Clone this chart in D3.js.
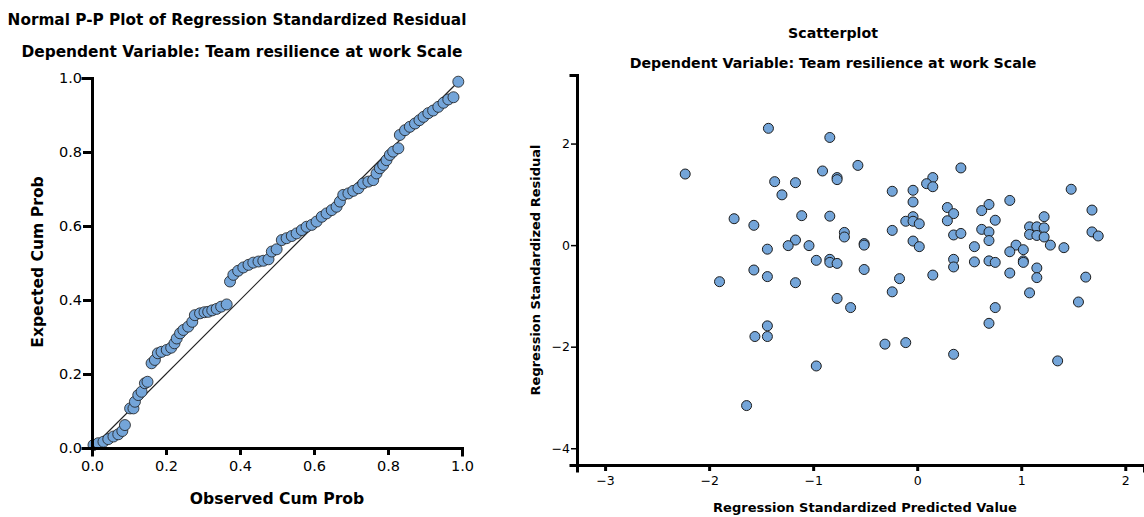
<!DOCTYPE html>
<html>
<head>
<meta charset="utf-8">
<script src="https://d3js.org/d3.v7.min.js"></script>
<style>
body{margin:0;background:#fff;}
text{font-family:"DejaVu Sans",sans-serif;fill:#000;}
</style>
</head>
<body>
<script>
// P-P plot: observed vs expected cumulative probability
var ppObserved=[0.004,0.017,0.031,0.044,0.058,0.071,0.082,0.089,0.103,0.112,0.116,0.125,0.134,0.143,0.150,
  0.161,0.170,0.178,0.188,0.202,0.214,0.223,0.229,0.238,0.247,0.260,0.271,0.278,0.292,0.304,0.314,0.325,
  0.337,0.349,0.364,0.373,0.382,0.395,0.409,0.423,0.436,0.450,0.463,0.477,0.486,0.499,0.513,0.526,0.540,
  0.553,0.567,0.580,0.594,0.607,0.621,0.634,0.648,0.661,0.670,0.679,0.693,0.706,0.720,0.733,0.747,0.760,
  0.769,0.778,0.787,0.796,0.805,0.814,0.828,0.832,0.846,0.859,0.873,0.885,0.896,0.909,0.922,0.936,0.950,
  0.963,0.977,0.990];
var ppExpected=[0.008,0.013,0.017,0.024,0.031,0.037,0.046,0.062,0.107,0.107,0.125,0.143,0.152,0.175,0.179,
  0.229,0.238,0.256,0.260,0.265,0.271,0.283,0.296,0.310,0.319,0.328,0.341,0.359,0.364,0.367,0.368,0.372,
  0.376,0.382,0.388,0.450,0.468,0.479,0.488,0.495,0.501,0.504,0.506,0.510,0.531,0.537,0.562,0.567,0.573,
  0.580,0.589,0.598,0.603,0.612,0.625,0.634,0.643,0.652,0.666,0.684,0.688,0.695,0.702,0.715,0.720,0.724,
  0.742,0.756,0.765,0.778,0.792,0.801,0.810,0.846,0.859,0.868,0.877,0.886,0.895,0.905,0.912,0.922,0.933,
  0.942,0.948,0.990];
var ppTicks=[0,0.2,0.4,0.6,0.8,1.0];

// scatterplot: standardized predicted vs standardized residual
var predicted=[-1.43,-0.84,-2.23,-0.57,-0.91,-0.77,-0.77,-1.37,-1.17,-1.30,-1.76,-1.57,-1.11,-0.84,-0.70,
  -0.70,-1.17,-1.24,-1.04,-1.44,-0.51,-0.51,-0.97,-0.84,-0.84,-0.77,-0.51,-1.57,-1.44,-1.90,-1.17,-0.77,
  -0.64,-1.44,-1.56,-1.44,-0.31,-0.97,-1.64,
  0.42,0.15,0.09,0.15,-0.24,-0.04,1.48,-0.04,0.89,1.68,0.29,0.35,0.69,0.62,1.22,-0.04,-0.11,-0.04,0.02,
  0.29,0.75,-0.24,0.62,0.69,0.35,0.42,1.08,1.15,1.22,1.08,1.15,1.22,1.68,1.74,0.69,-0.04,0.02,0.55,0.95,
  1.02,1.28,1.41,0.89,0.35,0.35,0.55,0.69,0.75,1.02,1.02,1.15,0.89,1.15,0.15,-0.17,1.62,-0.24,1.08,1.55,
  0.75,0.69,-0.11,0.35,1.35];
var residual=[2.30,2.12,1.40,1.57,1.46,1.33,1.29,1.25,1.23,0.99,0.52,0.39,0.58,0.57,0.25,
  0.16,0.10,-0.01,-0.01,-0.08,0.03,0.00,-0.30,-0.28,-0.34,-0.36,-0.48,-0.49,-0.62,-0.72,-0.74,-1.05,
  -1.23,-1.59,-1.80,-1.80,-1.95,-2.38,-3.16,
  1.52,1.33,1.21,1.15,1.06,1.08,1.10,0.85,0.88,0.69,0.74,0.62,0.80,0.68,0.56,0.56,0.47,0.47,0.42,
  0.48,0.49,0.29,0.31,0.26,0.20,0.23,0.36,0.36,0.34,0.21,0.19,0.16,0.26,0.18,0.09,0.08,-0.03,-0.03,0.00,
  -0.09,0.00,-0.05,-0.13,-0.28,-0.43,-0.33,-0.31,-0.34,-0.31,-0.34,-0.45,-0.55,-0.64,-0.59,-0.66,-0.63,-0.92,-0.94,-1.12,
  -1.23,-1.54,-1.92,-2.15,-2.28];
var predTicks=[-3,-2,-1,0,1,2];
var residTicks=[2,0,-2,-4];

var dotFill="#74a5d9", dotStroke="#1c1c1c";

var svg=d3.select("body").append("svg").attr("width",1144).attr("height",517);

// ---------- left chart: Normal P-P plot ----------
svg.append("text").attr("x",237).attr("y",25)
   .attr("text-anchor","middle").attr("font-size","15.3px").attr("font-weight","bold")
   .text("Normal P-P Plot of Regression Standardized Residual");
svg.append("text").attr("x",242).attr("y",57)
   .attr("text-anchor","middle").attr("font-size","15.4px").attr("font-weight","bold")
   .text("Dependent Variable: Team resilience at work Scale");

var px=d3.scaleLinear().domain([0,1]).range([92,462]);
var py=d3.scaleLinear().domain([0,1]).range([448,78]);

// reference diagonal
svg.append("line").attr("x1",px(0)).attr("y1",py(0)).attr("x2",px(1)).attr("y2",py(1))
   .attr("stroke","#222").attr("stroke-width",1.2);

var ppData=ppObserved.map(function(d,i){return {x:d,y:ppExpected[i]};});
svg.append("g").selectAll("circle").data(ppData).enter().append("circle")
   .attr("cx",function(d){return px(d.x);})
   .attr("cy",function(d){return py(d.y);})
   .attr("r",5.5)
   .attr("fill",dotFill).attr("stroke",dotStroke).attr("stroke-opacity",0.8).attr("stroke-width",1);

var pxAxis=svg.append("g").attr("transform","translate(0,448)")
   .call(d3.axisBottom(px).tickValues(ppTicks).tickFormat(d3.format(".1f"))
         .tickSizeOuter(0).tickSize(7).tickPadding(6));
var pyAxis=svg.append("g").attr("transform","translate(92,0)")
   .call(d3.axisLeft(py).tickValues(ppTicks).tickFormat(d3.format(".1f"))
         .tickSizeOuter(0).tickSize(9).tickPadding(1));
[pxAxis,pyAxis].forEach(function(a){
  a.select(".domain").attr("stroke","#000").attr("stroke-width",3).attr("stroke-linecap","square");
  a.selectAll(".tick line").attr("stroke","#000").attr("stroke-width",3);
  a.selectAll(".tick text").attr("font-size","14.5px").attr("font-family","DejaVu Sans").attr("fill","#000");
});

svg.append("text").attr("x",277).attr("y",504)
   .attr("text-anchor","middle").attr("font-size","15.6px").attr("font-weight","bold")
   .text("Observed Cum Prob");
svg.append("text").attr("transform","translate(43,262) rotate(-90)")
   .attr("text-anchor","middle").attr("font-size","15.6px").attr("font-weight","bold")
   .text("Expected Cum Prob");

// ---------- right chart: Scatterplot ----------
svg.append("text").attr("x",833).attr("y",38)
   .attr("text-anchor","middle").attr("font-size","14.2px").attr("font-weight","bold")
   .text("Scatterplot");
svg.append("text").attr("x",833).attr("y",68)
   .attr("text-anchor","middle").attr("font-size","14.2px").attr("font-weight","bold")
   .text("Dependent Variable: Team resilience at work Scale");

var sx=d3.scaleLinear().domain([-3.27,2.18]).range([577,1144]);
var sy=d3.scaleLinear().domain([-4.33,3.35]).range([465,75]);

var scData=predicted.map(function(d,i){return {x:d,y:residual[i]};});
svg.append("g").selectAll("circle").data(scData).enter().append("circle")
   .attr("cx",function(d){return sx(d.x);})
   .attr("cy",function(d){return sy(d.y);})
   .attr("r",5)
   .attr("fill",dotFill).attr("stroke",dotStroke).attr("stroke-width",1);

var minus=function(d){return d<0 ? "\u2212"+Math.abs(d) : ""+d;};
var sxAxis=svg.append("g").attr("transform","translate(0,465)")
   .call(d3.axisBottom(sx).tickValues(predTicks).tickFormat(minus)
         .tickSizeOuter(0).tickSize(6).tickPadding(5));
var syAxis=svg.append("g").attr("transform","translate(577,0)")
   .call(d3.axisLeft(sy).tickValues(residTicks).tickFormat(minus)
         .tickSizeOuter(0).tickSize(6).tickPadding(1));
[sxAxis,syAxis].forEach(function(a){
  a.select(".domain").attr("stroke","#000").attr("stroke-width",3).attr("stroke-linecap","square");
  a.selectAll(".tick text").attr("font-size","12.5px").attr("font-family","DejaVu Sans").attr("fill","#000");
});
sxAxis.selectAll(".tick line").attr("stroke","#000").attr("stroke-width",3);
syAxis.selectAll(".tick line").attr("stroke","#000").attr("stroke-width",1.5);

svg.append("text").attr("x",865).attr("y",512)
   .attr("text-anchor","middle").attr("font-size","13px").attr("font-weight","bold")
   .text("Regression Standardized Predicted Value");
svg.append("text").attr("transform","translate(540,270) rotate(-90)")
   .attr("text-anchor","middle").attr("font-size","13px").attr("font-weight","bold")
   .text("Regression Standardized Residual");
</script>
</body>
</html>
